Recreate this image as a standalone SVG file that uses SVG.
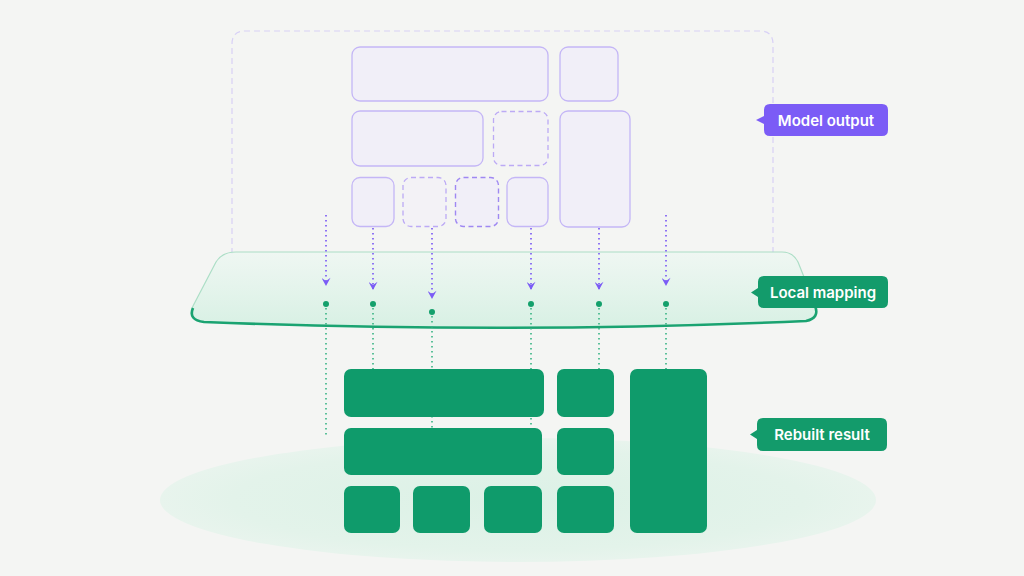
<svg xmlns="http://www.w3.org/2000/svg" width="1024" height="576" viewBox="0 0 1024 576">
<style>
.frame{fill:none;stroke:#d8d1f6;stroke-width:1.2;stroke-dasharray:6 4}
.pbox{fill:#f1eff8;stroke:#c4b6f6;stroke-width:1.3}
.pdash{fill:#f3f2f6;stroke:#bcaaf5;stroke-width:1.3;stroke-dasharray:5 3.5}
.pdash2{fill:#f1eff8;stroke:#9f88f2;stroke-width:1.4;stroke-dasharray:5 3.5}
.gbox{fill:#0f9b6b}
.arrow{stroke:#8466f4;stroke-width:1.8;stroke-dasharray:1.6 3.4;fill:none}
.gline{stroke:#36b383;stroke-width:1.6;stroke-dasharray:1.6 3.4;fill:none}
.dot{fill:#14a06c}
.lbl{font-family:Inter,"Noto Sans","Liberation Sans",sans-serif;font-size:15px;font-weight:600;fill:#ffffff}
</style>
<defs>
<linearGradient id="glass" x1="0" y1="0" x2="0" y2="1">
<stop offset="0" stop-color="#eef7f2" stop-opacity="0.85"/>
<stop offset="1" stop-color="#d6f0e3" stop-opacity="0.95"/>
</linearGradient>
<radialGradient id="floor" cx="0.5" cy="0.5" r="0.5">
<stop offset="0" stop-color="#dcf1e6"/>
<stop offset="0.8" stop-color="#e3f3ea"/>
<stop offset="1" stop-color="#e8f4ed"/>
</radialGradient>
<marker id="ah" viewBox="0 0 10 10" refX="9" refY="5" markerWidth="9" markerHeight="9" markerUnits="userSpaceOnUse" orient="auto">
<path d="M1,0 L4.5,5 L1,10 L10,5 Z" fill="#7b5cf5"/>
</marker>
</defs>
<rect width="1024" height="576" fill="#f4f5f3"/>
<ellipse cx="518" cy="500" rx="358" ry="62" fill="url(#floor)"/>

<g id="frame">
<path class="frame" d="M232,254 L232,44 Q232,31 245,31 L760,31 Q773,31 773,44 L773,254"/>
</g>

<g id="model-output-boxes">
<rect id="p1" class="pbox" x="352" y="47" width="196" height="54" rx="8"/>
<rect id="p2" class="pbox" x="560" y="47" width="58" height="54" rx="8"/>
<rect id="p3" class="pbox" x="352" y="111" width="131" height="55" rx="8"/>
<rect id="p4" class="pdash" x="493.5" y="111.5" width="54.5" height="54" rx="8"/>
<rect id="p5" class="pbox" x="560" y="111" width="70" height="116" rx="8"/>
<rect id="p6" class="pbox" x="352" y="177.5" width="42" height="49" rx="8"/>
<rect id="p7" class="pdash" x="403" y="177.5" width="43" height="49" rx="8"/>
<rect id="p8" class="pdash2" x="455.5" y="177.5" width="43" height="49" rx="8"/>
<rect id="p9" class="pbox" x="507" y="177.5" width="41" height="49" rx="8"/>
</g>

<g id="local-mapping-plane">
<path d="M236,252 L782,252 Q793,252 798,262 L814,302 Q820,318 806,321 Q512,334 204,322 Q186,320 193,306 L216,262 Q222,252 236,252 Z" fill="url(#glass)" stroke="#acdec6" stroke-width="1.2"/>
<path d="M193,308 Q188,320 204,322 Q512,334 806,321 Q820,318 815,306" fill="none" stroke="#1aa371" stroke-width="2.6"/>
</g>

<g id="connectors">
<line class="arrow" x1="326" y1="215" x2="326" y2="285" marker-end="url(#ah)"/>
<line class="arrow" x1="373" y1="228" x2="373" y2="289" marker-end="url(#ah)"/>
<line class="arrow" x1="432" y1="228" x2="432" y2="298" marker-end="url(#ah)"/>
<line class="arrow" x1="531" y1="228" x2="531" y2="289" marker-end="url(#ah)"/>
<line class="arrow" x1="599" y1="228" x2="599" y2="289" marker-end="url(#ah)"/>
<line class="arrow" x1="666" y1="215" x2="666" y2="285" marker-end="url(#ah)"/>
<line class="gline" x1="326" y1="308" x2="326" y2="436"/>
<line class="gline" x1="373" y1="308" x2="373" y2="369"/>
<line class="gline" x1="432" y1="316" x2="432" y2="428"/>
<line class="gline" x1="531" y1="308" x2="531" y2="428"/>
<line class="gline" x1="599" y1="308" x2="599" y2="369"/>
<line class="gline" x1="666" y1="308" x2="666" y2="369"/>
<circle class="dot" cx="326" cy="304" r="3"/>
<circle class="dot" cx="373" cy="304" r="3"/>
<circle class="dot" cx="432" cy="312" r="3"/>
<circle class="dot" cx="531" cy="304" r="3"/>
<circle class="dot" cx="599" cy="304" r="3"/>
<circle class="dot" cx="666" cy="304" r="3"/>
</g>

<g id="rebuilt-boxes">
<rect id="g1" class="gbox" x="344" y="369" width="200" height="48" rx="7"/>
<rect id="g2" class="gbox" x="557" y="369" width="57" height="48" rx="7"/>
<rect id="g3" class="gbox" x="630" y="369" width="77" height="164" rx="7"/>
<rect id="g4" class="gbox" x="344" y="428" width="198" height="47" rx="7"/>
<rect id="g5" class="gbox" x="557" y="428" width="57" height="47" rx="7"/>
<rect id="g6" class="gbox" x="344" y="486" width="56" height="47" rx="7"/>
<rect id="g7" class="gbox" x="413" y="486" width="57" height="47" rx="7"/>
<rect id="g8" class="gbox" x="484" y="486" width="58" height="47" rx="7"/>
<rect id="g9" class="gbox" x="557" y="486" width="57" height="47" rx="7"/>
</g>

<g id="label-model-output">
<path d="M770,104 L882,104 Q888,104 888,110 L888,130 Q888,136 882,136 L770,136 Q764,136 764,130 L764,124 L756,120 L764,116 L764,110 Q764,104 770,104 Z" fill="#7b5cf6"/>
<text class="lbl" x="826" y="125.5" text-anchor="middle">Model output</text>
</g>
<g id="label-local-mapping">
<path d="M764,276 L882,276 Q888,276 888,282 L888,302 Q888,308 882,308 L764,308 Q758,308 758,302 L758,297 L751,292.5 L758,288 L758,282 Q758,276 764,276 Z" fill="#139b6b"/>
<text class="lbl" x="823" y="297.5" text-anchor="middle">Local mapping</text>
</g>
<g id="label-rebuilt-result">
<path d="M763,418 L881,418 Q887,418 887,424 L887,445 Q887,451 881,451 L763,451 Q757,451 757,445 L757,439 L750,434.5 L757,430 L757,424 Q757,418 763,418 Z" fill="#139b6b"/>
<text class="lbl" x="822" y="440" text-anchor="middle">Rebuilt result</text>
</g>
</svg>
